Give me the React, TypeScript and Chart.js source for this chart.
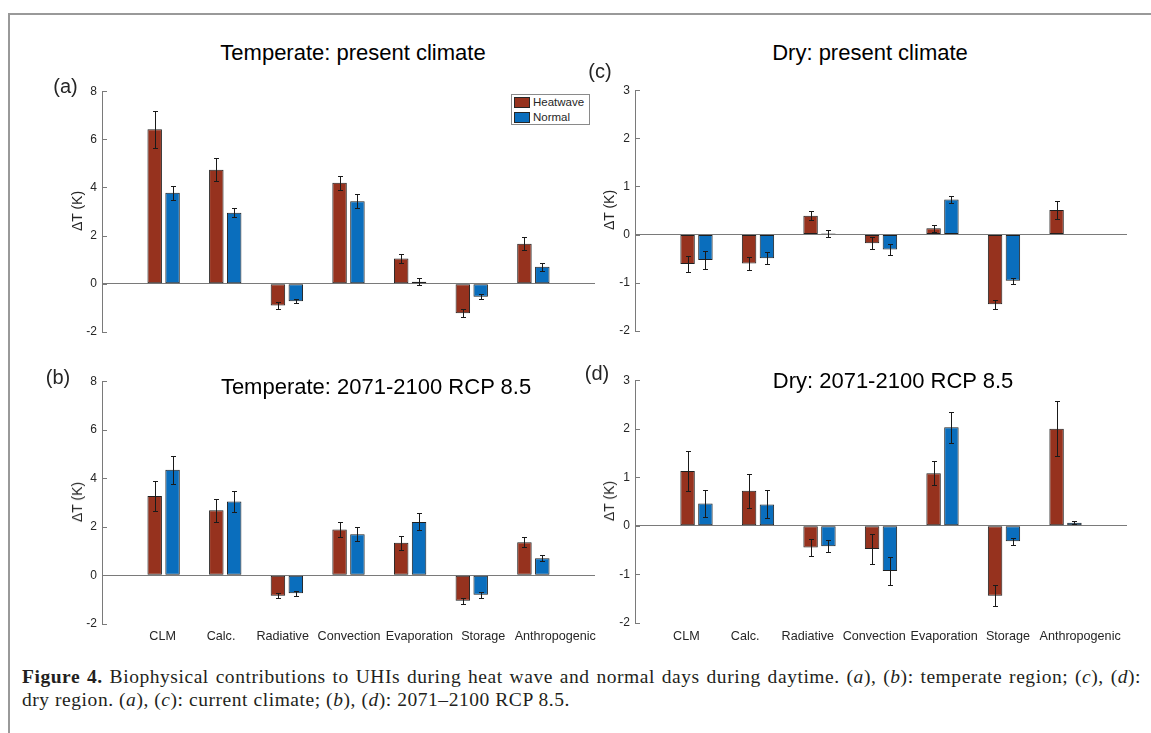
import React, { useEffect, useRef } from "react";
import { Chart, registerables } from "chart.js";

Chart.register(...registerables);

// ---------------- data ----------------
const categories = ["CLM", "Calc.", "Radiative", "Convection", "Evaporation", "Storage", "Anthropogenic"];
const seriesNames = ["Heatwave", "Normal"];

// (a) Temperate: present climate
const tempPresentHeat = [6.42, 4.74, -0.91, 4.19, 1.05, -1.23, 1.66];
const tempPresentHeatErr = [0.77, 0.48, 0.13, 0.3, 0.2, 0.16, 0.26];
const tempPresentNormal = [3.78, 2.95, -0.73, 3.43, 0.08, -0.54, 0.7];
const tempPresentNormalErr = [0.29, 0.19, 0.09, 0.29, 0.14, 0.11, 0.16];

// (b) Temperate: 2071-2100 RCP 8.5
const tempFutureHeat = [3.27, 2.68, -0.84, 1.89, 1.34, -1.05, 1.36];
const tempFutureHeatErr = [0.61, 0.47, 0.11, 0.31, 0.28, 0.13, 0.2];
const tempFutureNormal = [4.35, 3.04, -0.74, 1.69, 2.2, -0.8, 0.7];
const tempFutureNormalErr = [0.58, 0.43, 0.11, 0.29, 0.35, 0.13, 0.13];

// (c) Dry: present climate
const dryPresentHeat = [-0.61, -0.6, 0.39, -0.18, 0.13, -1.45, 0.51];
const dryPresentHeatErr = [0.17, 0.13, 0.09, 0.12, 0.07, 0.1, 0.19];
const dryPresentNormal = [-0.53, -0.49, 0.02, -0.31, 0.73, -0.96, 0.01];
const dryPresentNormalErr = [0.19, 0.12, 0.08, 0.11, 0.07, 0.06, 0];

// (d) Dry: 2071-2100 RCP 8.5
const dryFutureHeat = [1.13, 0.72, -0.45, -0.48, 1.08, -1.44, 2.0];
const dryFutureHeatErr = [0.42, 0.35, 0.18, 0.3, 0.25, 0.22, 0.57];
const dryFutureNormal = [0.46, 0.44, -0.42, -0.93, 2.03, -0.32, 0.06];
const dryFutureNormalErr = [0.27, 0.29, 0.12, 0.29, 0.32, 0.07, 0.03];

const tempTicks = [-2, 0, 2, 4, 6, 8];
const dryTicks = [-2, -1, 0, 1, 2, 3];

// ---------------- style / layout ----------------
const SANS = '"Liberation Sans", Arial, Helvetica, sans-serif';
const SERIF = '"Liberation Serif", "Times New Roman", serif';
const RED = "#96321e";
const BLUE = "#0a6ebd";
const AXIS = "#7a7a7a";
const TXT = "#262626";
const Y_W = 40;
const PAD_T = 10;
const PAD_R = 6;
const PAD_B = 10;

type Panel = {
  key: string;
  heat: number[];
  heatErr: number[];
  normal: number[];
  normalErr: number[];
  ticks: number[];
  area: { left: number; right: number; top: number; bottom: number };
  title: string;
  titlePos: [number, number];
  tag: string;
  tagPos: [number, number];
  ylabPos: [number, number];
  xLabelLefts: number[] | null;
};

const panels: Panel[] = [
  {
    key: "a",
    heat: tempPresentHeat,
    heatErr: tempPresentHeatErr,
    normal: tempPresentNormal,
    normalErr: tempPresentNormalErr,
    ticks: tempTicks,
    area: { left: 102, right: 595, top: 89, bottom: 334 },
    title: "Temperate: present climate",
    titlePos: [353, 53],
    tag: "(a)",
    tagPos: [65.5, 86],
    ylabPos: [76.5, 211],
    xLabelLefts: null,
  },
  {
    key: "b",
    heat: tempFutureHeat,
    heatErr: tempFutureHeatErr,
    normal: tempFutureNormal,
    normalErr: tempFutureNormalErr,
    ticks: tempTicks,
    area: { left: 102, right: 595, top: 379, bottom: 626 },
    title: "Temperate: 2071-2100 RCP 8.5",
    titlePos: [376, 387],
    tag: "(b)",
    tagPos: [58, 376.5],
    ylabPos: [76.5, 502],
    xLabelLefts: [149.3, 206.7, 256.4, 317.6, 385.8, 461.2, 514.7],
  },
  {
    key: "c",
    heat: dryPresentHeat,
    heatErr: dryPresentHeatErr,
    normal: dryPresentNormal,
    normalErr: dryPresentNormalErr,
    ticks: dryTicks,
    area: { left: 635, right: 1127, top: 88, bottom: 333 },
    title: "Dry: present climate",
    titlePos: [870, 53],
    tag: "(c)",
    tagPos: [600, 70.5],
    ylabPos: [609, 210],
    xLabelLefts: null,
  },
  {
    key: "d",
    heat: dryFutureHeat,
    heatErr: dryFutureHeatErr,
    normal: dryFutureNormal,
    normalErr: dryFutureNormalErr,
    ticks: dryTicks,
    area: { left: 635, right: 1127, top: 378, bottom: 625 },
    title: "Dry: 2071-2100 RCP 8.5",
    titlePos: [893, 381],
    tag: "(d)",
    tagPos: [597, 373],
    ylabPos: [609, 501],
    xLabelLefts: [673.1, 730.8, 781.6, 842.7, 910.5, 985.9, 1039.5],
  },
];

// plugin: inward y ticks + error bars
const decorPlugin = {
  id: "decor",
  afterDatasetsDraw(chart: any) {
    const ctx = chart.ctx;
    const y = chart.scales.y;
    ctx.save();
    ctx.strokeStyle = "#1a1a1a";
    ctx.lineWidth = 1;
    chart.data.datasets.forEach((ds: any, i: number) => {
      const meta = chart.getDatasetMeta(i);
      meta.data.forEach((el: any, j: number) => {
        const v = ds.data[j];
        const e = ds.errorBars ? ds.errorBars[j] : null;
        if (v == null || e == null || e <= 0) return;
        const x = Math.round(el.x) + 0.5;
        const yHi = Math.round(y.getPixelForValue(v + e)) + 0.5;
        const yLo = Math.round(y.getPixelForValue(v - e)) + 0.5;
        ctx.beginPath();
        ctx.moveTo(x, yHi);
        ctx.lineTo(x, yLo);
        ctx.moveTo(x - 2.5, yHi);
        ctx.lineTo(x + 2.5, yHi);
        ctx.moveTo(x - 2.5, yLo);
        ctx.lineTo(x + 2.5, yLo);
        ctx.stroke();
      });
    });
    ctx.restore();
  },
  afterDraw(chart: any) {
    const ctx = chart.ctx;
    const y = chart.scales.y;
    const left = Math.round(chart.chartArea.left);
    ctx.save();
    ctx.strokeStyle = AXIS;
    ctx.lineWidth = 1;
    y.ticks.forEach((t: any) => {
      const py = Math.round(y.getPixelForValue(t.value)) + 0.5;
      ctx.beginPath();
      ctx.moveTo(left, py);
      ctx.lineTo(left + 5, py);
      ctx.stroke();
    });
    ctx.restore();
  },
};

function PanelChart({ p }: { p: Panel }) {
  const ref = useRef<HTMLCanvasElement | null>(null);
  const w = p.area.right - p.area.left + Y_W + PAD_R;
  const h = p.area.bottom - p.area.top + PAD_T + PAD_B;
  useEffect(() => {
    if (!ref.current) return;
    const labels = ["", ...categories, ""];
    const pad = (arr: number[]) => [null, ...arr, null];
    const chart = new Chart(ref.current, {
      type: "bar",
      data: {
        labels,
        datasets: [
          {
            label: seriesNames[0],
            data: pad(p.heat),
            errorBars: pad(p.heatErr),
            backgroundColor: RED,
            borderColor: "#1f1f1f",
            borderWidth: 1,
            borderSkipped: false,
            categoryPercentage: 0.58,
            barPercentage: 0.81,
          } as any,
          {
            label: seriesNames[1],
            data: pad(p.normal),
            errorBars: pad(p.normalErr),
            backgroundColor: BLUE,
            borderColor: "#1f1f1f",
            borderWidth: 1,
            borderSkipped: false,
            categoryPercentage: 0.58,
            barPercentage: 0.81,
          } as any,
        ],
      },
      options: {
        responsive: false,
        animation: false,
        layout: { padding: { top: PAD_T, right: PAD_R, bottom: PAD_B, left: 0 } },
        plugins: { legend: { display: false }, tooltip: { enabled: false }, title: { display: false } },
        scales: {
          x: {
            type: "category",
            offset: false,
            display: false,
            grid: { display: false },
          },
          y: {
            type: "linear",
            min: p.ticks[0],
            max: p.ticks[p.ticks.length - 1],
            afterBuildTicks: (scale: any) => {
              scale.ticks = p.ticks.map((v) => ({ value: v }));
            },
            afterFit: (scale: any) => {
              scale.width = Y_W;
            },
            ticks: {
              color: TXT,
              font: { family: SANS, size: 12 },
              padding: 5,
              callback: (v: any) => String(v),
            },
            grid: {
              drawTicks: false,
              lineWidth: 1,
              color: (c: any) => (c.tick && c.tick.value === 0 ? AXIS : "rgba(0,0,0,0)"),
            },
            border: { display: true, color: AXIS, width: 1 },
          },
        },
      } as any,
      plugins: [decorPlugin],
    });
    return () => chart.destroy();
  }, [p]);

  const abs = (x: number, y: number, extra: any = {}) => ({
    position: "absolute" as const,
    left: x,
    top: y,
    transform: "translate(-50%, -50%)",
    whiteSpace: "nowrap" as const,
    lineHeight: 1,
    fontFamily: SANS,
    ...extra,
  });

  return (
    <>
      <canvas
        ref={ref}
        width={w}
        height={h}
        style={{ position: "absolute", left: p.area.left - Y_W, top: p.area.top - PAD_T, width: w, height: h }}
      />
      <div style={abs(p.titlePos[0], p.titlePos[1], { fontSize: 22, color: "#000" })}>{p.title}</div>
      <div style={abs(p.tagPos[0], p.tagPos[1], { fontSize: 20, color: TXT })}>{p.tag}</div>
      <div
        style={abs(p.ylabPos[0], p.ylabPos[1], {
          fontSize: 14,
          color: TXT,
          transform: "translate(-50%, -50%) rotate(-90deg)",
        })}
      >
        ΔT (K)
      </div>
      {p.xLabelLefts &&
        categories.map((c, i) => (
          <div
            key={c}
            style={{
              position: "absolute",
              left: p.xLabelLefts![i],
              top: 636,
              transform: "translateY(-50%)",
              whiteSpace: "nowrap",
              lineHeight: 1,
              fontFamily: SANS,
              fontSize: 12.6,
              color: TXT,
            }}
          >
            {c}
          </div>
        ))}
    </>
  );
}

function Legend() {
  const row = (color: string, text: string, top: number) => (
    <div style={{ position: "absolute", left: 2, top, height: 11, display: "flex", alignItems: "center" }}>
      <div style={{ width: 16, height: 11, boxSizing: "border-box", background: color, border: "1px solid #262626" }} />
      <div style={{ marginLeft: 3, fontFamily: SANS, fontSize: 11.5, color: TXT, lineHeight: 1 }}>{text}</div>
    </div>
  );
  return (
    <div
      style={{
        position: "absolute",
        left: 511,
        top: 94,
        width: 79,
        height: 31,
        boxSizing: "border-box",
        border: "1px solid #8a8a8a",
        background: "#fff",
      }}
    >
      {row(RED, seriesNames[0], 2)}
      {row(BLUE, seriesNames[1], 17)}
    </div>
  );
}

export default function App() {
  return (
    <div
      style={{
        position: "absolute",
        left: 0,
        top: 0,
        width: 1151,
        height: 733,
        overflow: "hidden",
        background: "#fff",
      }}
    >
      <div
        style={{
          position: "absolute",
          left: 8,
          top: 13,
          width: 1143,
          height: 720,
          boxSizing: "border-box",
          borderTop: "2px solid #999",
          borderLeft: "2px solid #999",
        }}
      />
      {panels.map((p) => (
        <PanelChart key={p.key} p={p} />
      ))}
      <Legend />
      <div
        style={{
          position: "absolute",
          left: 22,
          top: 665,
          width: 1119,
          fontFamily: SERIF,
          fontSize: 19.5,
          letterSpacing: 0.55,
          lineHeight: "23px",
          color: "#231f20",
        }}
      >
        <div style={{ textAlign: "justify", textAlignLast: "justify", whiteSpace: "nowrap" } as any}>
          <b>Figure 4.</b> Biophysical contributions to UHIs during heat wave and normal days during daytime. (
          <i>a</i>), (<i>b</i>): temperate region; (<i>c</i>), (<i>d</i>):
        </div>
        <div style={{ whiteSpace: "nowrap" }}>
          dry region. (<i>a</i>), (<i>c</i>): current climate; (<i>b</i>), (<i>d</i>): 2071–2100 RCP 8.5.
        </div>
      </div>
    </div>
  );
}
